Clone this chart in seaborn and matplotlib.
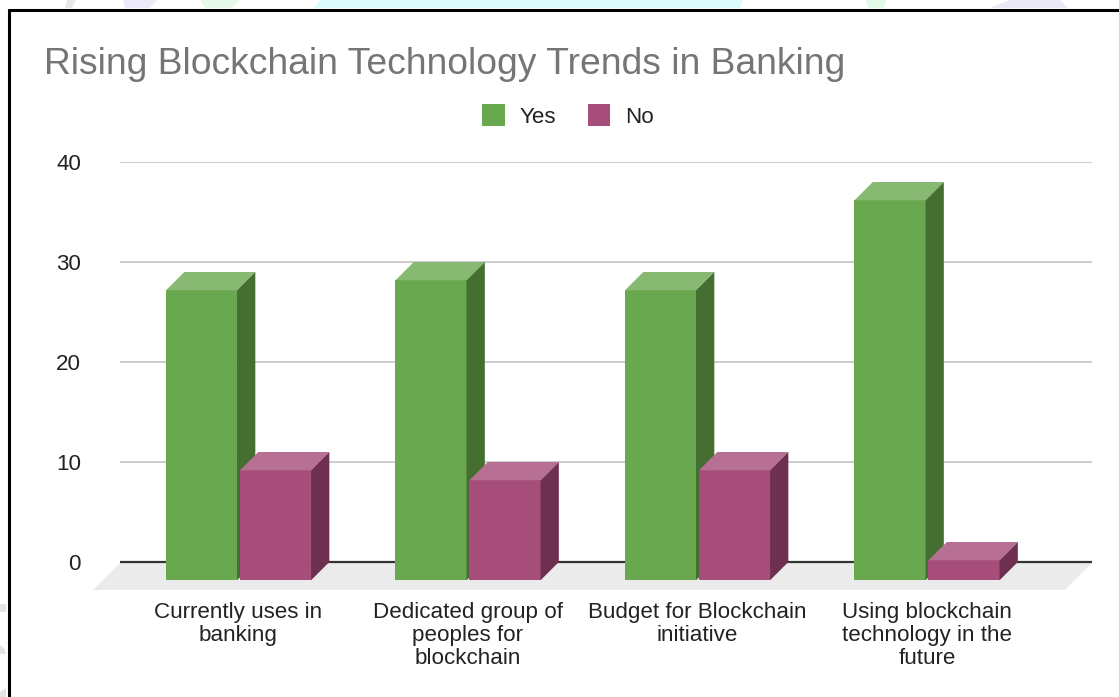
import matplotlib
matplotlib.use("Agg")
import matplotlib.pyplot as plt
from matplotlib.lines import Line2D
from matplotlib.patches import Patch, Polygon
import pandas as pd
import seaborn as sns

# Survey responses per question
categories = [
    "Currently uses in\nbanking",
    "Dedicated group of\npeoples for\nblockchain",
    "Budget for Blockchain\ninitiative",
    "Using blockchain\ntechnology in the\nfuture",
]
yes_values = [29, 30, 29, 38]
no_values = [11, 10, 11, 2]
y_ticks = [0, 10, 20, 30, 40]
title_text = "Rising Blockchain Technology Trends in Banking"

W, H = 1119, 697
PX_PER_CAT = 229.5
PX_PER_UNIT = 10.0
DEPTH_PX = 18.3
LABEL_PT = 16.1

FRONT = {"Yes": "#6aa84f", "No": "#a64d79"}
TOP = {"Yes": "#87b972", "No": "#b86f94"}
SIDE = {"Yes": "#446f30", "No": "#6e3050"}

sns.set_theme(style="white")
plt.rcParams["font.family"] = ["Liberation Sans", "DejaVu Sans"]

fig = plt.figure(figsize=(W / 100, H / 100), dpi=100, facecolor="white")
left, right, top, bottom = 120, 1092, 162, 590
ax = fig.add_axes([left / W, 1 - bottom / H, (right - left) / W, (bottom - top) / H])
ax.set_facecolor("none")

df = pd.DataFrame({
    "category": categories * 2,
    "answer": ["Yes"] * 4 + ["No"] * 4,
    "value": yes_values + no_values,
})

sns.barplot(
    data=df, x="category", y="value", hue="answer", order=categories,
    hue_order=["Yes", "No"], palette=FRONT, width=0.645, gap=0.04,
    saturation=1, legend=False, ax=ax, zorder=5, linewidth=0, edgecolor="none",
)

x0 = (left - 238.5) / PX_PER_CAT
x1 = (right - 238.5) / PX_PER_CAT
y0 = (562 - bottom) / PX_PER_UNIT
ax.set_xlim(x0, x1)
ax.set_ylim(y0, 40)

dx = DEPTH_PX / PX_PER_CAT
dy = DEPTH_PX / PX_PER_UNIT

# Shift each bar's front face forward and add its top and side faces
bars = list(ax.patches)
answers = ["Yes"] * 4 + ["No"] * 4
order = [0, 4, 1, 5, 2, 6, 3, 7]
for rank, i in enumerate(order):
    bar, answer = bars[i], answers[i]
    bar.set_y(-dy)
    bar.set_zorder(5 + rank)
    xa, xb = bar.get_x(), bar.get_x() + bar.get_width()
    ya, yb = -dy, -dy + bar.get_height()
    ax.add_patch(Polygon([(xa, yb), (xb, yb), (xb + dx, yb + dy), (xa + dx, yb + dy)],
                         closed=True, fc=TOP[answer], ec="none", zorder=5 + rank, clip_on=False))
    ax.add_patch(Polygon([(xb, ya), (xb + dx, ya + dy), (xb + dx, yb + dy), (xb, yb)],
                         closed=True, fc=SIDE[answer], ec="none", zorder=5 + rank, clip_on=False))

# Floor plane under the bars
floor_dx = 27 / PX_PER_CAT
ax.add_patch(Polygon([(x0, -0.1), (x1, -0.1), (x1 - floor_dx, y0), (x0 - floor_dx, y0)],
                     closed=True, fc="#ebebeb", ec="none", zorder=1, clip_on=False))

for tick in y_ticks[1:]:
    ax.axhline(tick, color="#cccccc", lw=1.4, zorder=2)
ax.axhline(0, color="#333333", lw=1.6, zorder=3)

sns.despine(ax=ax, left=True, bottom=True, right=True, top=True)
ax.set_xlabel("")
ax.set_ylabel("")
ax.set_yticks(y_ticks)
ax.set_yticklabels([str(t) for t in y_ticks], fontsize=LABEL_PT, color="#222222")
ax.tick_params(axis="y", length=0, pad=28)
ax.tick_params(axis="x", length=0, pad=8.7, labelsize=LABEL_PT, labelcolor="#222222")
for label in ax.get_xticklabels():
    label.set_linespacing(1.13)

fig.text(44 / W, 1 - 64 / H, title_text, fontsize=26.85, color="#757575", ha="left", va="center")

handles = [Patch(fc=FRONT["Yes"], ec="none", label="Yes"), Patch(fc=FRONT["No"], ec="none", label="No")]
fig.legend(handles=handles, loc="center", bbox_to_anchor=(568 / W, 1 - 116 / H), ncol=2, frameon=False,
           fontsize=LABEL_PT, handlelength=1.0, handleheight=1.1, handletextpad=0.68, columnspacing=1.4,
           labelcolor="#222222")

# Black frame around the chart
for xs, ys in [((8.5, 8.5), (9.5, 697)), ((8.5, 1119), (9.5, 9.5))]:
    fig.add_artist(Line2D([x / W for x in xs], [1 - y / H for y in ys], color="black", lw=2.2))

# Pale background fragments showing outside the frame
fragments = [
    (((67, 0), (76, 0), (72, 8), (65, 8)), "#e8e8e8"),
    (((123, 0), (157, 0), (150, 8), (125, 8)), "#ece9f8"),
    (((200, 0), (240, 0), (232, 8), (205, 8)), "#e6f8ea"),
    (((320, 0), (743, 0), (740, 8), (314, 8)), "#dcfbfd"),
    (((866, 0), (886, 0), (884, 8), (868, 8)), "#e4f8e8"),
    (((990, 8), (1010, 0), (1060, 0), (1068, 8)), "#ebe9f6"),
    (((0, 604), (6, 604), (6, 612), (0, 612)), "#e4e4e4"),
    (((0, 645), (4, 648), (6, 654), (0, 654)), "#e4e4e4"),
    (((0, 692), (6, 688), (6, 697), (0, 697)), "#e4e4e4"),
]
for corners, shade in fragments:
    fig.add_artist(Polygon([(x / W, 1 - y / H) for x, y in corners], closed=True,
                           fc=shade, ec="none", transform=fig.transFigure, zorder=-1))

fig.savefig("out.png", dpi=100, facecolor="white")
